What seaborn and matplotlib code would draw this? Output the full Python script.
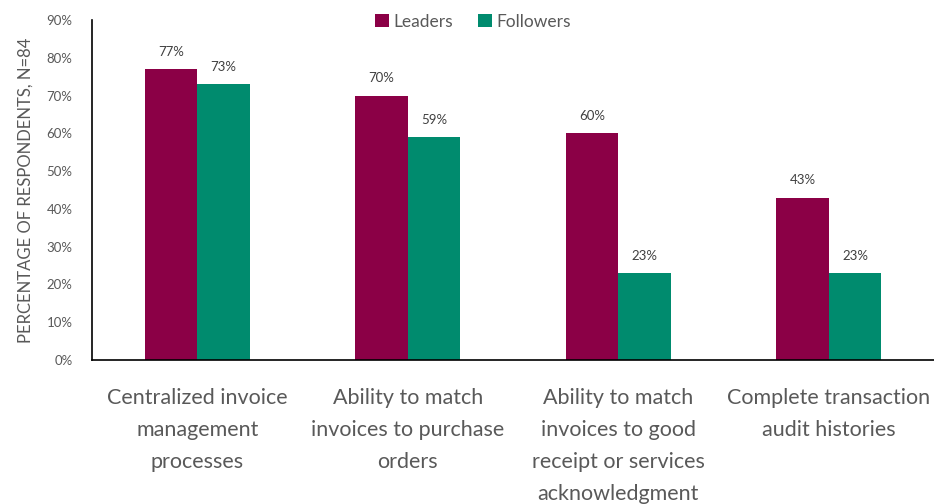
import matplotlib
matplotlib.use("Agg")
import matplotlib.pyplot as plt
import seaborn as sns
import pandas as pd
from matplotlib.ticker import FuncFormatter

categories = ["Centralized invoice\nmanagement\nprocesses",
              "Ability to match\ninvoices to purchase\norders",
              "Ability to match\ninvoices to good\nreceipt or services\nacknowledgment",
              "Complete transaction\naudit histories"]
leaders = [77, 70, 60, 43]
followers = [73, 59, 23, 23]
series = ["Leaders", "Followers"]
yticks = [0, 10, 20, 30, 40, 50, 60, 70, 80, 90]

df = pd.DataFrame({
    "cat": categories * 2,
    "val": leaders + followers,
    "series": [series[0]] * 4 + [series[1]] * 4,
})

sns.set_theme(style="white")
plt.rcParams['font.family'] = ['Lato', 'DejaVu Sans']
grey = "#595959"

fig = plt.figure(figsize=(9.34, 5.04), dpi=100)
ax = fig.add_axes([92/934, 1-360/504, 1-92/934, 340/504])
sns.barplot(data=df, x="cat", y="val", hue="series", order=categories,
            hue_order=series, palette=["#8B0046", "#008B6E"], width=0.5,
            saturation=1, ax=ax, edgecolor="none")
for c in ax.containers:
    ax.bar_label(c, labels=[f"{v:.0f}%" for v in c.datavalues], padding=8,
                 fontsize=9.5, color="#404040")
ax.set_ylim(0, 90)
ax.set_xlim(-0.5, 3.5)
ax.set_yticks(yticks)
ax.yaxis.set_major_formatter(FuncFormatter(lambda v, p: f"{v:.0f}%"))
ax.tick_params(axis="y", labelsize=9.5, labelcolor=grey, length=0, pad=14)
ax.tick_params(axis="x", labelsize=15.5, labelcolor=grey, length=0, pad=20)
for t in ax.get_xticklabels():
    t.set_linespacing(1.75)
ax.set_xlabel("")
ax.set_ylabel("PERCENTAGE OF RESPONDENTS, N=84", fontsize=12, color=grey, labelpad=9)
for s in ["top", "right"]:
    ax.spines[s].set_visible(False)
for s in ["left", "bottom"]:
    ax.spines[s].set_color("black")
    ax.spines[s].set_linewidth(1.2)
leg = ax.legend(loc="upper center", bbox_to_anchor=(0.5 - 40/842, 1.065), ncol=2, frameon=False,
                fontsize=12.5, handlelength=0.8, handleheight=0.8, handletextpad=0.3,
                columnspacing=1.4)
for t in leg.get_texts():
    t.set_color(grey)
fig.savefig("out.png", dpi=100)
